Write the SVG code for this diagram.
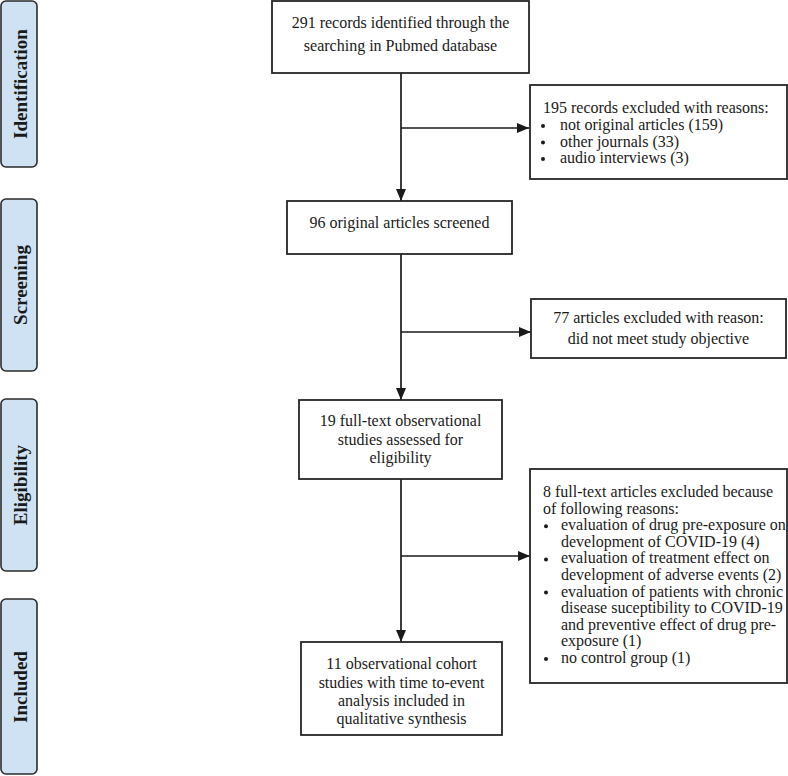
<svg xmlns="http://www.w3.org/2000/svg" width="788" height="776" viewBox="0 0 788 776">
<defs>
<style>
.tab{fill:#cfe2f3;stroke:#2b2b2b;stroke-width:1.6}
.tabt{font-family:"Liberation Serif",serif;font-weight:bold;font-size:19px;fill:#1a1a1a;text-anchor:middle;dominant-baseline:central}
.box{fill:#ffffff;stroke:#262626;stroke-width:1.8}
.t{font-family:"Liberation Serif",serif;font-size:16px;fill:#1a1a1a}
.c{text-anchor:middle}
.ln{stroke:#1a1a1a;stroke-width:1.7;fill:none}
.dot{fill:#1a1a1a}
</style>
<marker id="ah" markerUnits="userSpaceOnUse" markerWidth="13" markerHeight="11" refX="12" refY="5.5" orient="auto">
<path d="M0,0.5 L12,5.5 L0,10.5 Z" fill="#1a1a1a"/>
</marker>
</defs>
<rect width="788" height="776" fill="#ffffff"/>

<g id="tab-identification">
<rect class="tab" x="1" y="1" width="36" height="166" rx="5"/>
<text class="tabt" transform="translate(20,84) rotate(-90)">Identification</text>
</g>
<g id="tab-screening">
<rect class="tab" x="1" y="199" width="36" height="172" rx="5"/>
<text class="tabt" transform="translate(20,285) rotate(-90)">Screening</text>
</g>
<g id="tab-eligibility">
<rect class="tab" x="1" y="399" width="36" height="172" rx="5"/>
<text class="tabt" transform="translate(20,485) rotate(-90)">Eligibility</text>
</g>
<g id="tab-included">
<rect class="tab" x="1" y="599" width="36" height="175" rx="5"/>
<text class="tabt" transform="translate(20,687) rotate(-90)">Included</text>
</g>

<g id="connectors">
<line class="ln" x1="401" y1="73" x2="401" y2="201" marker-end="url(#ah)"/>
<line class="ln" x1="401" y1="128" x2="529" y2="128" marker-end="url(#ah)"/>
<line class="ln" x1="401" y1="254" x2="401" y2="400" marker-end="url(#ah)"/>
<line class="ln" x1="401" y1="332" x2="531" y2="332" marker-end="url(#ah)"/>
<line class="ln" x1="401" y1="479" x2="401" y2="642" marker-end="url(#ah)"/>
<line class="ln" x1="401" y1="556" x2="530" y2="556" marker-end="url(#ah)"/>
</g>

<g id="box-records">
<rect class="box" x="272" y="1" width="257" height="72"/>
<text class="t c" x="400.5" y="28">291 records identified through the</text>
<text class="t c" x="400.5" y="51">searching in Pubmed database</text>
</g>

<g id="box-excluded1">
<rect class="box" x="530" y="85" width="257" height="94"/>
<text class="t" x="543" y="113">195 records excluded with reasons:</text>
<circle class="dot" cx="543" cy="126" r="2"/>
<text class="t" x="560" y="130">not original articles (159)</text>
<circle class="dot" cx="543" cy="142.5" r="2"/>
<text class="t" x="560" y="146.5">other journals (33)</text>
<circle class="dot" cx="543" cy="159" r="2"/>
<text class="t" x="560" y="163">audio interviews (3)</text>
</g>

<g id="box-screened">
<rect class="box" x="287" y="201" width="225" height="53"/>
<text class="t c" x="399.5" y="228">96 original articles screened</text>
</g>

<g id="box-excluded2">
<rect class="box" x="531" y="299" width="255" height="59"/>
<text class="t c" x="658.5" y="323">77 articles excluded with reason:</text>
<text class="t c" x="658.5" y="344">did not meet study objective</text>
</g>

<g id="box-eligibility">
<rect class="box" x="299" y="400" width="203" height="79"/>
<text class="t c" x="400.5" y="426">19 full-text observational</text>
<text class="t c" x="400.5" y="445">studies assessed for</text>
<text class="t c" x="400.5" y="463">eligibility</text>
</g>

<g id="box-excluded3">
<rect class="box" x="530" y="469" width="257" height="214"/>
<text class="t" x="543" y="497">8 full-text articles excluded because</text>
<text class="t" x="543" y="513.6">of following reasons:</text>
<circle class="dot" cx="546" cy="526.2" r="2"/>
<text class="t" x="561" y="530.2">evaluation of drug pre-exposure on</text>
<text class="t" x="561" y="546.8">development of COVID-19 (4)</text>
<circle class="dot" cx="546" cy="559.4" r="2"/>
<text class="t" x="561" y="563.4">evaluation of treatment effect on</text>
<text class="t" x="561" y="580">development of adverse events (2)</text>
<circle class="dot" cx="546" cy="592.6" r="2"/>
<text class="t" x="561" y="596.6">evaluation of patients with chronic</text>
<text class="t" x="561" y="613.2">disease suceptibility to COVID-19</text>
<text class="t" x="561" y="629.8">and preventive effect of drug pre-</text>
<text class="t" x="561" y="646.4">exposure (1)</text>
<circle class="dot" cx="546" cy="659" r="2"/>
<text class="t" x="561" y="663">no control group (1)</text>
</g>

<g id="box-included">
<rect class="box" x="301" y="642" width="201" height="93"/>
<text class="t c" x="401.5" y="669">11 observational cohort</text>
<text class="t c" x="401.5" y="688">studies with time to-event</text>
<text class="t c" x="401.5" y="706">analysis included in</text>
<text class="t c" x="401.5" y="724">qualitative synthesis</text>
</g>
</svg>
